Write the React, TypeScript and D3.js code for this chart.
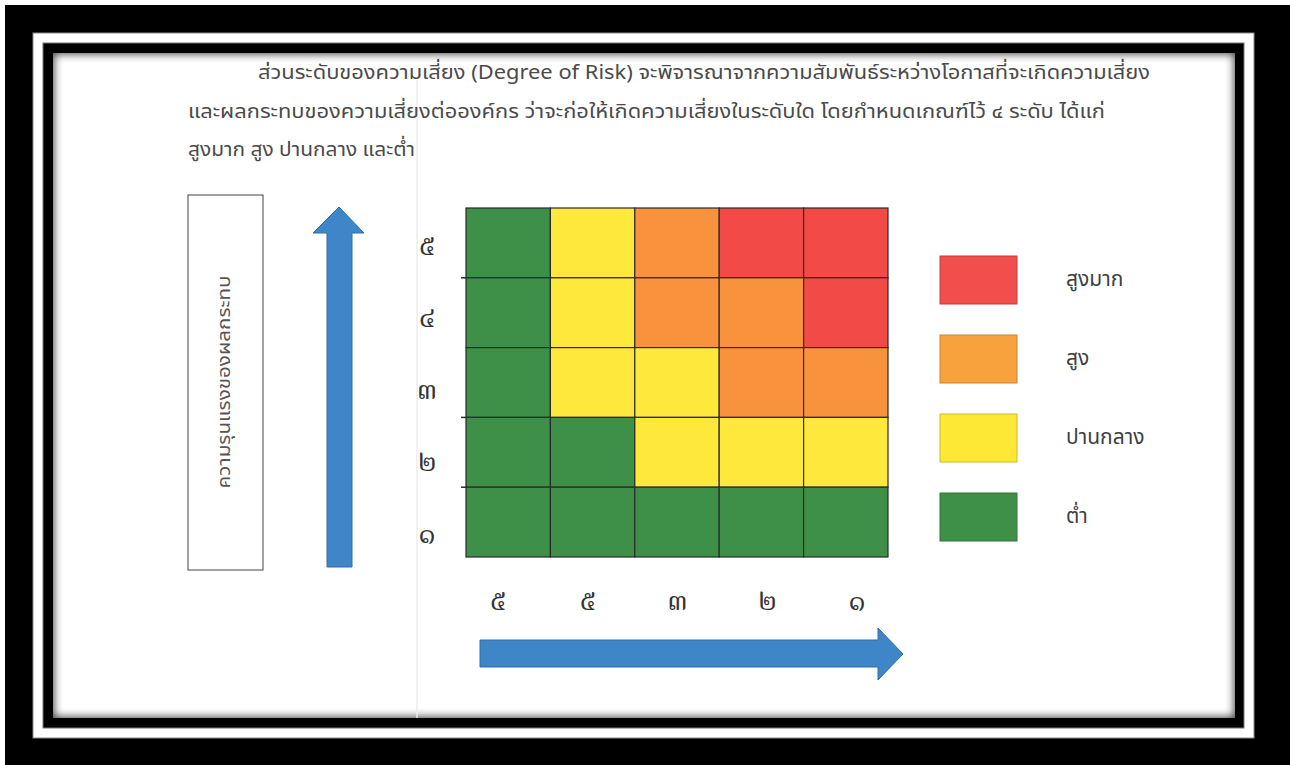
import React from "react";
import * as d3 from "d3";

const paragraphLines = [
  "ส่วนระดับของความเสี่ยง (Degree of Risk) จะพิจารณาจากความสัมพันธ์ระหว่างโอกาสที่จะเกิดความเสี่ยง",
  "และผลกระทบของความเสี่ยงต่อองค์กร ว่าจะก่อให้เกิดความเสี่ยงในระดับใด โดยกำหนดเกณฑ์ไว้ ๔ ระดับ ได้แก่",
  "สูงมาก สูง ปานกลาง และต่ำ",
];
const yAxisTitle = "ความรุนแรงของผลกระทบ";
const yLabels = ["๕", "๔", "๓", "๒", "๑"];
const xLabels = ["๕", "๕", "๓", "๒", "๑"];
// risk level per cell: 0 = สูงมาก, 1 = สูง, 2 = ปานกลาง, 3 = ต่ำ ; rows top (๕) to bottom (๑)
const riskMatrix = [
  [3, 2, 1, 0, 0],
  [3, 2, 1, 1, 0],
  [3, 2, 2, 1, 1],
  [3, 3, 2, 2, 2],
  [3, 3, 3, 3, 3],
];
const levelNames = ["สูงมาก", "สูง", "ปานกลาง", "ต่ำ"];
const cellColors = ["#f24a47", "#f8923d", "#fde83b", "#3e8f48"];
const legendColors = ["#f24e4b", "#f8a23e", "#fde835", "#3e9047"];

const W = 1290;
const H = 765;
const thaiFont = "Tahoma, 'Leelawadee UI', 'Noto Sans Thai', 'Noto Sans', sans-serif";
const digitFont = "'TH Sarabun New', 'Noto Serif Thai', 'Noto Sans Thai', serif";

export default function App() {
  const cols = d3.range(xLabels.length);
  const rows = d3.range(yLabels.length);
  const x = d3.scaleBand<number>().domain(cols).range([466, 888]).padding(0);
  const y = d3.scaleBand<number>().domain(rows).range([208, 557]).padding(0);
  const xLab = d3.scalePoint<number>().domain(cols).range([498, 857]);
  const yLab = d3.scalePoint<number>().domain(rows).range([247, 535]);
  const legendY = d3.scalePoint<number>().domain(d3.range(levelNames.length)).range([280, 517]);

  const lineX = [258, 188, 188];
  const lineY = [73, 112, 150];
  const lineLen = [892, 917, 227];

  const vArrow = d3.path();
  vArrow.moveTo(327, 567);
  vArrow.lineTo(327, 233);
  vArrow.lineTo(313, 233);
  vArrow.lineTo(339, 207);
  vArrow.lineTo(364, 233);
  vArrow.lineTo(352, 233);
  vArrow.lineTo(352, 567);
  vArrow.closePath();

  const hArrow = d3.path();
  hArrow.moveTo(480, 640);
  hArrow.lineTo(878, 640);
  hArrow.lineTo(878, 628);
  hArrow.lineTo(903, 654);
  hArrow.lineTo(878, 680);
  hArrow.lineTo(878, 667);
  hArrow.lineTo(480, 667);
  hArrow.closePath();

  const stubRows = [1, 3, 4];

  return (
    <svg
      width={W}
      height={H}
      viewBox={`0 0 ${W} ${H}`}
      style={{ position: "absolute", left: 0, top: 0, display: "block" }}
    >
      <defs>
        <filter id="blur" x="-5%" y="-5%" width="110%" height="110%">
          <feGaussianBlur stdDeviation="4" />
        </filter>
        <clipPath id="contentClip">
          <rect x={53} y={53} width={1182} height={665} />
        </clipPath>
      </defs>
      <rect x={0} y={0} width={W} height={H} fill="#ffffff" />
      <rect x={5} y={5} width={W - 5} height={H - 5} fill="#000000" />
      <rect x={33} y={33} width={1221} height={705} fill="#ffffff" stroke="#8a8a8a" strokeWidth={1} />
      <rect x={43} y={43} width={1201} height={685} fill="#000000" stroke="#777" strokeWidth={1} />
      <rect x={53} y={53} width={1182} height={665} fill="#ffffff" />
      <g clipPath="url(#contentClip)">
        <rect
          x={49}
          y={49}
          width={1190}
          height={673}
          fill="none"
          stroke="#000"
          strokeOpacity={0.75}
          strokeWidth={10}
          filter="url(#blur)"
        />
        <line x1={417} x2={417} y1={80} y2={718} stroke="#ececec" strokeWidth={1.5} />
      </g>

      {paragraphLines.map((t, i) => (
        <text
          key={i}
          x={lineX[i]}
          y={lineY[i]}
          dominantBaseline="middle"
          fontFamily={thaiFont}
          fontSize={20}
          fill="#4a4a4a"
          textLength={lineLen[i]}
          lengthAdjust="spacingAndGlyphs"
        >
          {t}
        </text>
      ))}

      <rect x={188} y={195} width={75} height={375} fill="#ffffff" stroke="#444" strokeWidth={1} />
      <text
        transform="translate(225,382) rotate(-90)"
        textAnchor="middle"
        dominantBaseline="middle"
        fontFamily={thaiFont}
        fontSize={17}
        fill="#555"
        textLength={213}
        lengthAdjust="spacingAndGlyphs"
      >
        {yAxisTitle}
      </text>

      <path d={vArrow.toString()} fill="#3e86c7" stroke="#2f6ea8" strokeWidth={1} />
      <path d={hArrow.toString()} fill="#3e86c7" stroke="#2f6ea8" strokeWidth={1} />

      {riskMatrix.map((row, r) =>
        row.map((lvl, c) => (
          <rect
            key={`${r}-${c}`}
            x={x(c)}
            y={y(r)}
            width={x.bandwidth()}
            height={y.bandwidth()}
            fill={cellColors[lvl]}
            stroke="#2b2b2b"
            strokeWidth={1.2}
          />
        ))
      )}
      {stubRows.map((r) => (
        <line
          key={`stub${r}`}
          x1={461}
          x2={466}
          y1={y(r)}
          y2={y(r)}
          stroke="#2b2b2b"
          strokeWidth={1.5}
        />
      ))}

      {yLabels.map((t, i) => (
        <text
          key={`y${i}`}
          x={427}
          y={yLab(i)}
          textAnchor="middle"
          dominantBaseline="middle"
          fontFamily={digitFont}
          fontSize={28}
          fill="#333"
        >
          {t}
        </text>
      ))}
      {xLabels.map((t, i) => (
        <text
          key={`x${i}`}
          x={xLab(i)}
          y={602}
          textAnchor="middle"
          dominantBaseline="middle"
          fontFamily={digitFont}
          fontSize={28}
          fill="#333"
        >
          {t}
        </text>
      ))}

      {levelNames.map((name, i) => (
        <g key={name}>
          <rect
            x={940}
            y={(legendY(i) as number) - 24}
            width={77}
            height={48}
            fill={legendColors[i]}
            stroke={d3.color(legendColors[i])!.darker(0.6).toString()}
            strokeWidth={1}
          />
          <text
            x={1066}
            y={legendY(i)}
            textAnchor="start"
            dominantBaseline="middle"
            fontFamily={thaiFont}
            fontSize={21}
            fill="#3f3f3f"
          >
            {name}
          </text>
        </g>
      ))}
    </svg>
  );
}
